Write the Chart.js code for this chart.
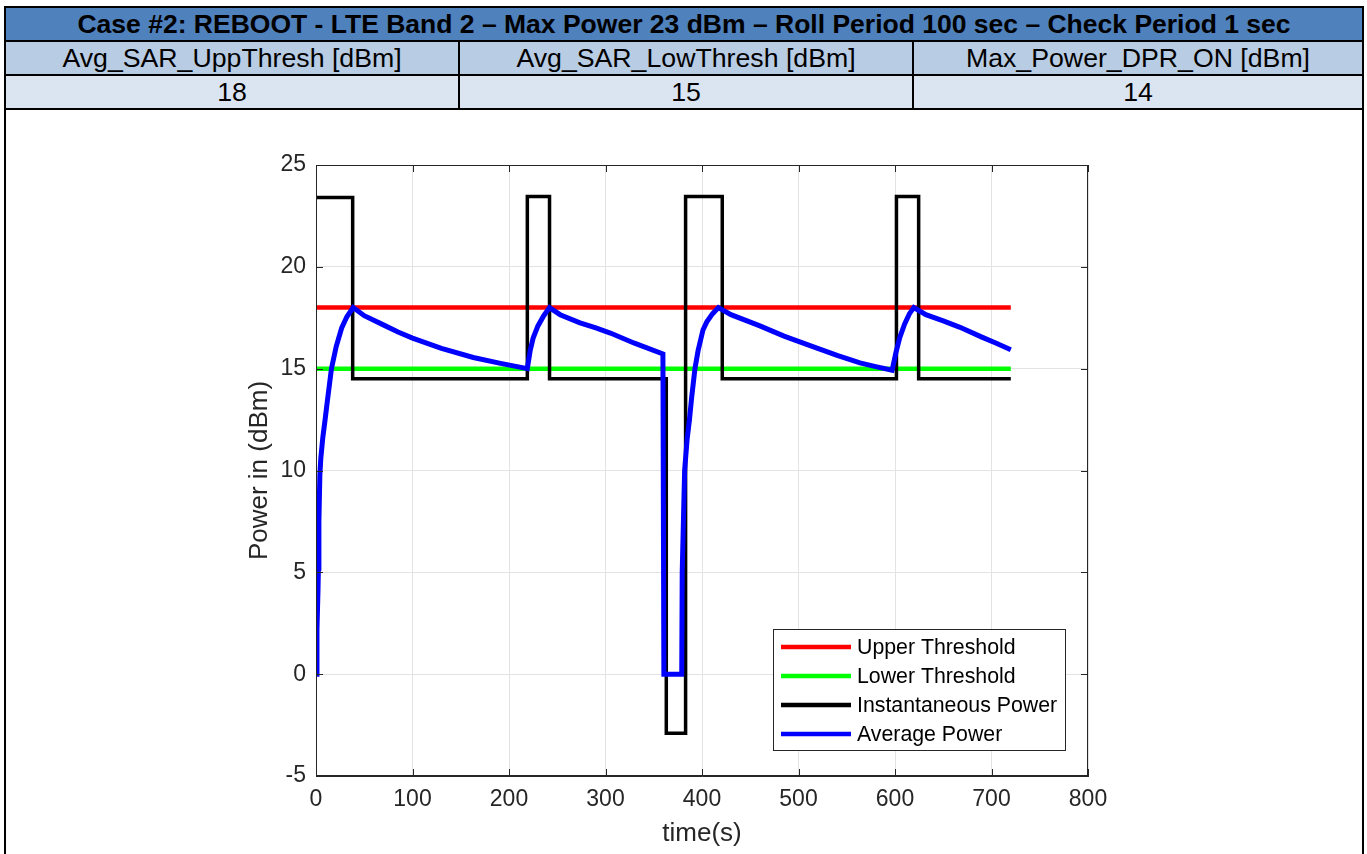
<!DOCTYPE html>
<html>
<head>
<meta charset="utf-8">
<title>Case #2 REBOOT</title>
<script src="https://cdn.jsdelivr.net/npm/chart.js@4.4.1/dist/chart.umd.min.js"></script>
<style>
  body { margin: 0; background: #fff; font-family: "Liberation Sans", Arial, sans-serif; }
  #c { position: absolute; left: 0; top: 0; }
  .cell { position: absolute; box-sizing: border-box; border: 2px solid #000; display: flex;
          align-items: center; justify-content: center; color: #000; font-size: 26.7px; white-space: nowrap; }
  .hd { background: #4f81bd; font-weight: bold; font-size: 26.5px; }
  .r2 { background: #b8cce4; }
  .r3 { background: #dbe5f1; }
  #frame { position: absolute; left: 4px; top: 108px; width: 1360px; height: 760px; box-sizing: border-box;
           border-left: 2px solid #000; border-right: 2px solid #000; }
</style>
</head>
<body>
<canvas id="c" width="1367" height="854"></canvas>

<div class="cell hd" id="ttl" style="left:4px;top:6px;width:1360px;height:36px;"></div>
<div class="cell r2" id="h0" style="left:4px;top:40px;width:456px;height:36px;"></div>
<div class="cell r2" id="h1" style="left:458px;top:40px;width:456px;height:36px;"></div>
<div class="cell r2" id="h2" style="left:912px;top:40px;width:452px;height:36px;"></div>
<div class="cell r3" id="v0" style="left:4px;top:74px;width:456px;height:36px;"></div>
<div class="cell r3" id="v1" style="left:458px;top:74px;width:456px;height:36px;"></div>
<div class="cell r3" id="v2" style="left:912px;top:74px;width:452px;height:36px;"></div>
<div id="frame"></div>

<script>
// header table
var caseTitle = 'Case #2: REBOOT - LTE Band 2 \u2013 Max Power 23 dBm \u2013 Roll Period 100 sec \u2013 Check Period 1 sec';
var paramNames = ['Avg_SAR_UppThresh [dBm]', 'Avg_SAR_LowThresh [dBm]', 'Max_Power_DPR_ON [dBm]'];
var paramValues = ['18', '15', '14'];

// thresholds
var thrTime = [0, 720];
var upperVals = [18, 18];
var lowerVals = [15, 15];

// instantaneous power (square pulses)
var instTime = [0, 38, 38, 219, 219, 242, 242, 363, 363, 383, 383, 421, 421, 601.5, 601.5, 624.5, 624.5, 720];
var instVals = [23.4, 23.4, 14.5, 14.5, 23.45, 23.45, 14.5, 14.5, -2.9, -2.9, 23.45, 23.45, 14.5, 14.5, 23.45, 23.45, 14.5, 14.5];

// average power
var avgTime = [0, 1, 2, 2.5, 3, 4, 5, 7, 9.3, 12, 16, 21, 26.6, 32, 38.5,
               50, 69.8, 85, 100, 130, 163, 190, 219,
               222, 225, 230, 236, 242,
               253, 273.6, 290, 305, 330, 359.5,
               360.5, 379, 379.5, 382, 384.5, 387, 389.3, 392.7, 396, 401, 405, 411, 417,
               430, 460, 485, 512, 540, 563.7, 580, 597,
               601, 605, 610, 615, 619.5,
               632, 650, 667.4, 690, 705, 720];
var avgVals = [0, 2.2, 4, 5.2, 7.5, 9.8, 10.6, 11.6, 12.45, 13.5, 15, 16.1, 17, 17.55, 18,
               17.6, 17.15, 16.8, 16.5, 16, 15.55, 15.27, 15,
               15.9, 16.5, 17.1, 17.6, 18,
               17.65, 17.25, 17, 16.75, 16.25, 15.72,
               0, 0, 5, 10, 11.5, 12.5, 13.6, 15, 15.9, 16.9, 17.3, 17.7, 18,
               17.65, 17.1, 16.6, 16.13, 15.65, 15.28, 15.1, 14.92,
               15.8, 16.54, 17.2, 17.7, 18,
               17.65, 17.35, 17.03, 16.55, 16.25, 15.93];

var xTickMax = 800, xStep = 100;
var yMin = -5, yMax = 25, yStep = 5;

document.getElementById('ttl').textContent = caseTitle;
for (var i = 0; i < 3; i++) {
  document.getElementById('h' + i).textContent = paramNames[i];
  document.getElementById('v' + i).textContent = paramValues[i];
}

function pts(xs, ys) {
  var out = [];
  for (var k = 0; k < xs.length; k++) out.push({x: xs[k], y: ys[k]});
  return out;
}

var FONT = '"Liberation Sans", Arial, sans-serif';
var AXC = '#262626';

// axes box, inward ticks and legend like the matlab figure
var boxPlugin = {
  id: 'box',
  afterDraw: function(chart) {
    var c = chart.ctx, a = chart.chartArea;
    var sx = chart.scales.x, sy = chart.scales.y;
    c.save();
    c.strokeStyle = AXC;
    c.lineWidth = 1;
    c.strokeRect(a.left + 0.5, a.top + 0.5, a.right - a.left - 1, a.bottom - a.top - 1);
    c.beginPath();
    sx.ticks.forEach(function(t) {
      var px = Math.round(sx.getPixelForValue(t.value)) + 0.5;
      c.moveTo(px, a.bottom); c.lineTo(px, a.bottom - 7);
      c.moveTo(px, a.top); c.lineTo(px, a.top + 7);
    });
    sy.ticks.forEach(function(t) {
      var py = Math.round(sy.getPixelForValue(t.value)) + 0.5;
      c.moveTo(a.left, py); c.lineTo(a.left + 7, py);
      c.moveTo(a.right, py); c.lineTo(a.right - 7, py);
    });
    c.stroke();

    // legend
    var lx = 773, ly = 629, lw = 292, lh = 121;
    c.fillStyle = '#fff';
    c.fillRect(lx, ly, lw, lh);
    c.strokeRect(lx + 0.5, ly + 0.5, lw, lh);
    c.font = '21.3px ' + FONT;
    c.textBaseline = 'middle';
    chart.data.datasets.forEach(function(ds, n) {
      var yy = ly + 18 + n * 29;
      c.strokeStyle = ds.borderColor;
      c.lineWidth = 4.5;
      c.beginPath(); c.moveTo(781, yy); c.lineTo(851, yy); c.stroke();
      c.fillStyle = '#000';
      c.fillText(ds.label, 857, yy + 1);
    });
    c.restore();
  }
};

var ctx = document.getElementById('c').getContext('2d');
new Chart(ctx, {
  type: 'line',
  data: {
    datasets: [
      {label: 'Upper Threshold', data: pts(thrTime, upperVals), borderColor: '#ff0000', borderWidth: 4.5, order: 4},
      {label: 'Lower Threshold', data: pts(thrTime, lowerVals), borderColor: '#00ff00', borderWidth: 4.5, order: 3},
      {label: 'Instantaneous Power', data: pts(instTime, instVals), borderColor: '#000000', borderWidth: 3.5, order: 2},
      {label: 'Average Power', data: pts(avgTime, avgVals), borderColor: '#0000ff', borderWidth: 5, order: 1}
    ]
  },
  options: {
    responsive: false,
    animation: false,
    elements: {point: {radius: 0}, line: {tension: 0, fill: false}},
    layout: {padding: {top: 165, right: 279, left: 0, bottom: 0}},
    plugins: {legend: {display: false}, tooltip: {enabled: false}},
    scales: {
      x: {
        type: 'linear', min: 0, max: xTickMax,
        ticks: {stepSize: xStep, color: AXC, font: {family: FONT, size: 23}, padding: 10, maxRotation: 0},
        grid: {color: '#e3e3e3', drawTicks: false},
        border: {color: AXC},
        title: {display: true, text: 'time(s)', color: AXC, font: {family: FONT, size: 26}, padding: {top: 0, bottom: 5}},
        afterFit: function(s) { s.height = 78; }
      },
      y: {
        min: yMin, max: yMax,
        ticks: {stepSize: yStep, color: AXC, font: {family: FONT, size: 23}, padding: 10},
        grid: {color: '#e3e3e3', drawTicks: false},
        border: {color: AXC},
        title: {display: true, text: 'Power in (dBm)', color: AXC, font: {family: FONT, size: 26}, padding: {top: 244, bottom: 0}},
        afterFit: function(s) { s.width = 316; }
      }
    }
  },
  plugins: [boxPlugin]
});
</script>
</body>
</html>
